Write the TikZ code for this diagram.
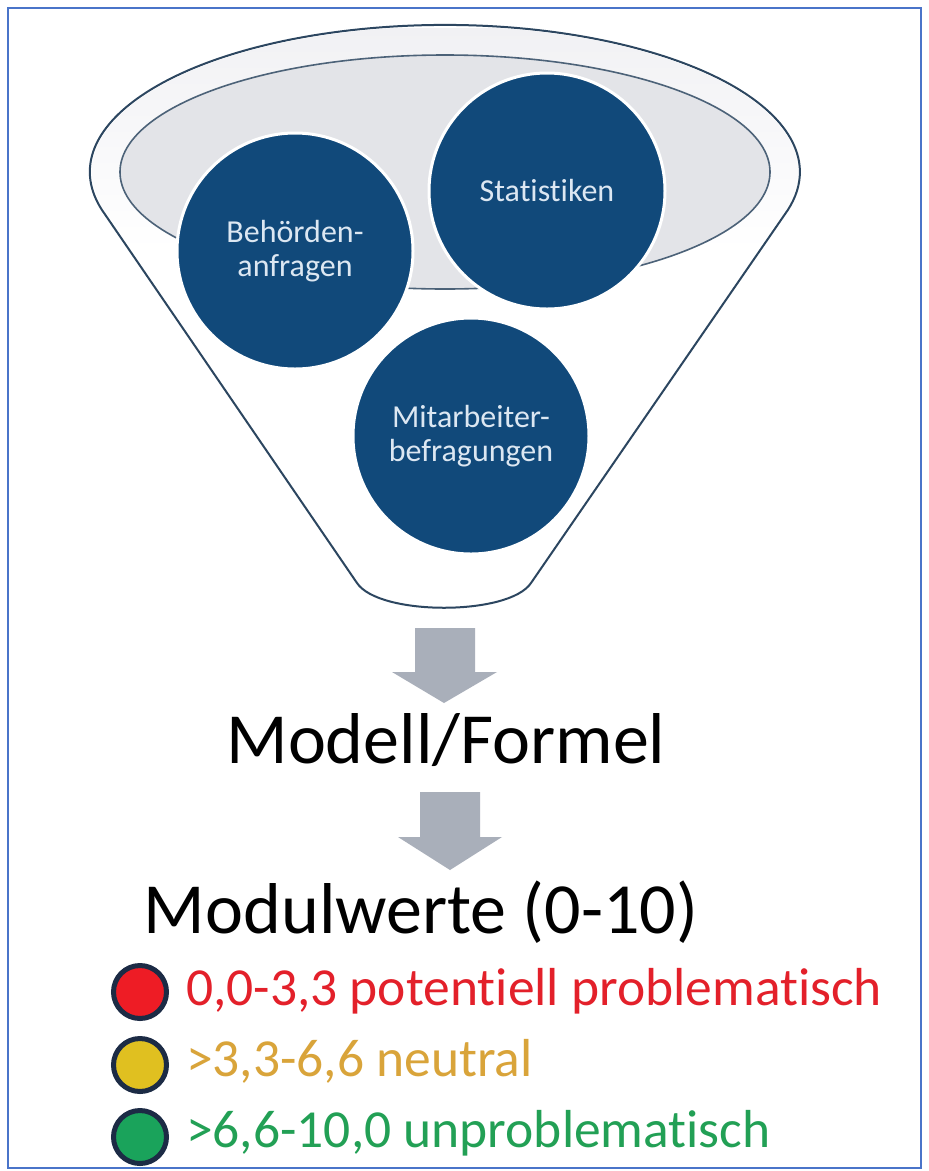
\documentclass[tikz,border=0pt]{standalone}
\usepackage{fontspec}
\setmainfont{Carlito}[RawFeature=-liga]
\definecolor{frame}{HTML}{4A74C9}
\definecolor{navy}{HTML}{2C4660}
\definecolor{circ}{HTML}{11497A}
\definecolor{ctext}{HTML}{DCE7F2}
\definecolor{rimfill}{HTML}{F1F1F4}
\definecolor{innerfill}{HTML}{E3E4E8}
\definecolor{arrowgray}{HTML}{A9AFBA}
\definecolor{ring}{HTML}{1C2B45}
\definecolor{redc}{HTML}{EE1C25}
\definecolor{redt}{HTML}{E3202A}
\definecolor{yelc}{HTML}{E0C020}
\definecolor{yelt}{HTML}{D9A43A}
\definecolor{grnc}{HTML}{1AA35B}
\definecolor{grnt}{HTML}{22A055}
\tikzset{
  src/.style={circle, fill=circ, draw=white, line width=3pt, minimum size=236pt, inner sep=0pt,
    text=ctext, align=center, font=\fontsize{32}{34}\selectfont},
  bigtext/.style={anchor=base, font=\fontsize{72}{80}\selectfont, text=black, inner sep=0pt},
  dot/.style={circle, draw=ring, line width=5pt, minimum size=53pt, inner sep=0pt},
  legend/.style={anchor=base west, font=\fontsize{53.5}{60}\selectfont, inner sep=0pt},
  blockarrow/.style={fill=arrowgray, draw=none}
}
\begin{document}
\begin{tikzpicture}[x=1pt,y=-1pt]
\useasboundingbox (0,0) rectangle (929,1171);
\fill[white] (0,0) rectangle (929,1171);
\draw[frame, line width=1.5pt] (8,8) rectangle (921,1168);
% funnel
\path[fill=white, draw=navy, line width=2pt, line join=round]
  (357,583) -- (102,210) arc[start angle=195, end angle=-15, x radius=355pt, y radius=147pt]
  -- (531,583) .. controls (509,616) and (379,616) .. cycle;
% rim area, softly shaded
\begin{scope}
  \clip (358,581) -- (104,209) arc[start angle=195, end angle=-15, x radius=353pt, y radius=145pt]
    -- (529,581) -- cycle;
  \shade[top color=rimfill, bottom color=white] (90,28) rectangle (800,250);
\end{scope}
% inner ellipse
\draw[fill=innerfill, draw=navy!85, line width=1.6pt] (445,172) ellipse[x radius=325pt, y radius=117pt];
% sources
\node[src] (beh) at (295,251) {Behörden-\\anfragen};
\node[src] (stat) at (547,191) {Statistiken};
\node[src] (mit) at (471,436) {Mitarbeiter-\\befragungen};
% arrows
\fill[blockarrow] (415,628) -- (475,628) -- (475,672) -- (497,672) -- (444,703) -- (392,672) -- (415,672) -- cycle;
\fill[blockarrow] (420,792) -- (480,792) -- (480,837) -- (502,837) -- (450,870) -- (398,837) -- (420,837) -- cycle;
% texts
\node[bigtext] (modell) at (446,763) {Modell/Formel};
\node[bigtext] (werte) at (421,933) {Modulwerte (0-10)};
% legend
\node[dot, fill=redc] (d1) at (140,992) {};
\node[dot, fill=yelc] (d2) at (140,1065) {};
\node[dot, fill=grnc] (d3) at (140,1137) {};
\node[legend, text=redt] (l1) at (186,1005) {0,0-3,3 potentiell problematisch};
\node[legend, text=yelt] (l2) at (186,1076) {>3,3-6,6 neutral};
\node[legend, text=grnt] (l3) at (186,1147) {>6,6-10,0 unproblematisch};
\end{tikzpicture}
\end{document}
